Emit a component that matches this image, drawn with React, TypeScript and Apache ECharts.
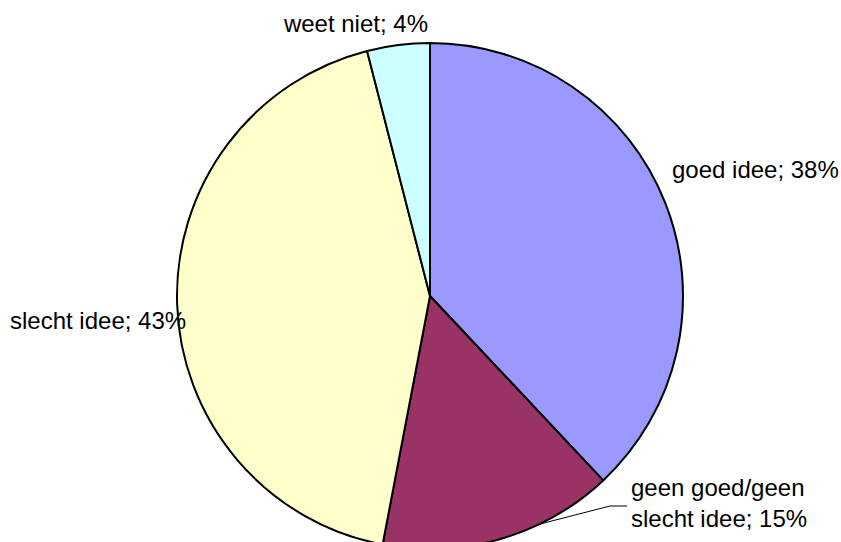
import React, { useEffect, useRef } from "react";
import * as echarts from "echarts";

const categories = ["goed idee", "geen goed/geen slecht idee", "slecht idee", "weet niet"];
const values = [38, 15, 43, 4];
const colors = ["#9999FF", "#993366", "#FFFFCC", "#CCFFFF"];

const labelPos: any[] = [
  { x: 672, y: 169, align: "left" },
  { x: 631, y: 503, align: "left", line: [[540, 524], [610, 506], [627, 506]] },
  { x: 10, y: 320, align: "left" },
  { x: 428, y: 23, align: "right" },
];

export default function App() {
  const ref = useRef<HTMLDivElement>(null);
  useEffect(() => {
    if (!ref.current) return;
    const chart = echarts.init(ref.current, null, { renderer: "svg" });
    chart.setOption({
      animation: false,
      backgroundColor: "#ffffff",
      series: [
        {
          type: "pie",
          center: [430, 296],
          radius: 253,
          startAngle: 90,
          clockwise: true,
          avoidLabelOverlap: false,
          data: categories.map((name, i) => ({
            name,
            value: values[i],
            itemStyle: { color: colors[i] },
            labelLine: { show: i === 1 },
          })),
          itemStyle: { borderColor: "#000000", borderWidth: 2 },
          label: {
            show: true,
            position: "outside",
            fontFamily: "Liberation Sans, Arial, sans-serif",
            fontSize: 24,
            lineHeight: 31,
            color: "#000000",
            formatter: (p: any) =>
              `${p.name.replace("geen goed/geen ", "geen goed/geen\n")}; ${p.value}%`,
          },
          labelLine: {
            show: true,
            lineStyle: { color: "#000000", width: 1 },
          },
          labelLayout: (params: any) => {
            const l = labelPos[params.dataIndex];
            const r: any = { x: l.x, y: l.y, align: l.align, verticalAlign: "middle" };
            if (l.line) r.labelLinePoints = l.line;
            return r;
          },
          emphasis: { disabled: true },
        },
      ],
    });
    return () => chart.dispose();
  }, []);
  return (
    <div
      ref={ref}
      style={{ position: "fixed", left: 0, top: 0, width: 841, height: 542 }}
    />
  );
}
